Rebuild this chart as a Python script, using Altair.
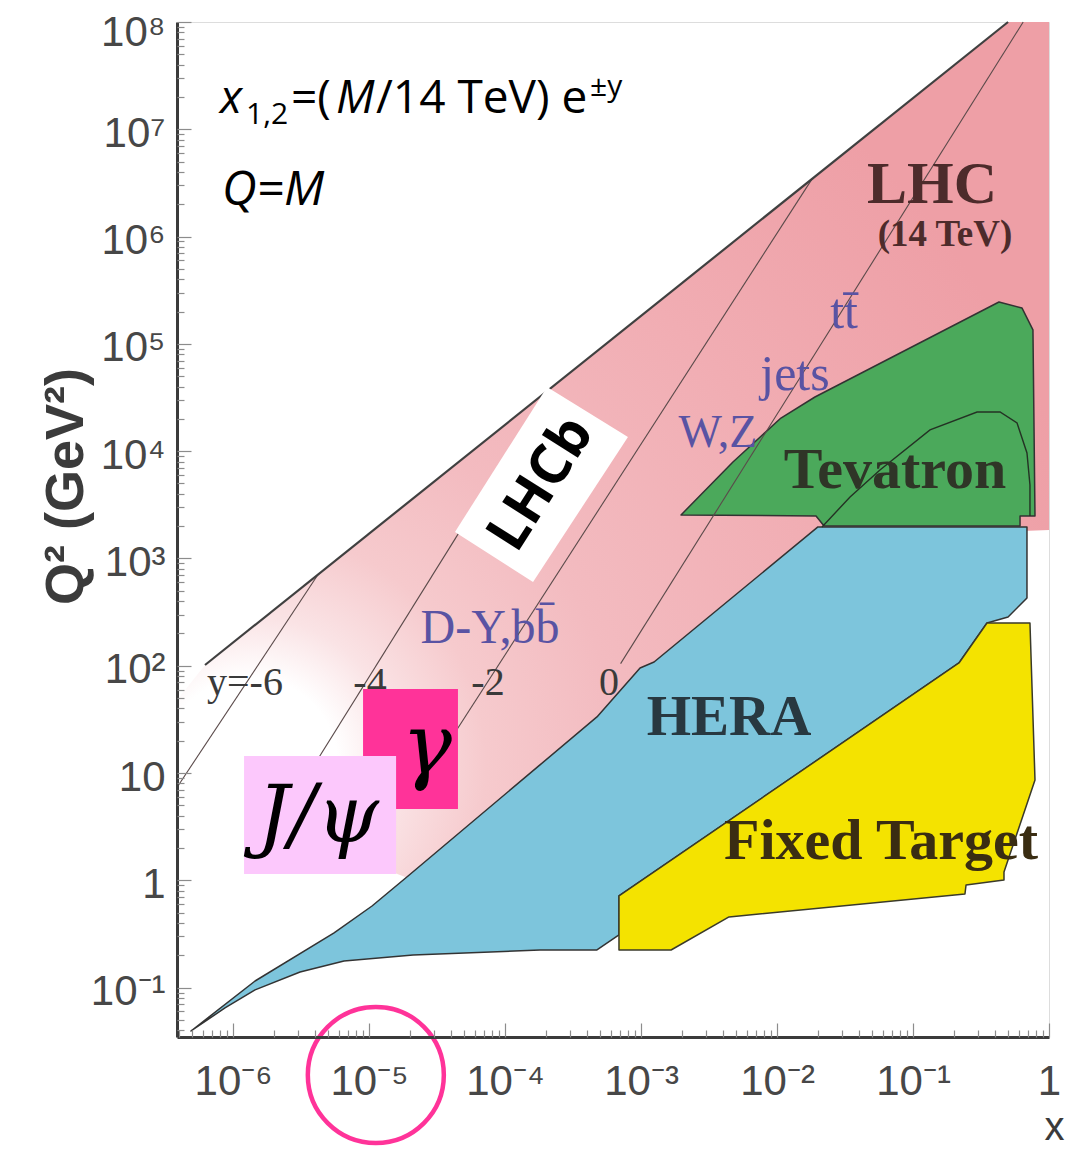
import math
import altair as alt
import pandas as pd

# ---------------- axes ----------------
x_tick_values = [1e-6, 1e-5, 1e-4, 1e-3, 1e-2, 1e-1, 1.0]
x_tick_labels = ["10⁻⁶", "10⁻⁵", "10⁻⁴", "10⁻³", "10⁻²", "10⁻¹", "1"]
y_tick_values = [1e-1, 1.0, 1e1, 1e2, 1e3, 1e4, 1e5, 1e6, 1e7, 1e8]
y_tick_labels = ["10⁻¹", "1", "10", "10²", "10³", "10⁴", "10⁵", "10⁶", "10⁷", "10⁸"]
x_log_domain = [-6.412, 0.0]
y_log_domain = [-1.46, 8.0]

# ---------------- regions: log10(x), log10(Q^2) vertices ----------------
lhc_logx = [-6.206, -0.301, 0.0, 0.0, -1.699, -4.676, -6.412, -6.412]
lhc_logq2 = [2.007, 8.0, 8.0, 3.266, 3.172, 0.004, 0.843, 1.681]

hera_logx = [-6.309, -5.838, -5.257, -4.978, -4.713, -3.743, -3.324, -3.007, -2.904,
             -1.699, -0.162, -0.162, -0.301, -0.456, -0.662, -3.162, -3.162, -3.324,
             -3.743, -4.676, -5.184, -5.507, -5.838, -6.059]
hera_logq2 = [-1.404, -0.938, -0.490, -0.239, 0.041, 1.076, 1.523, 1.979, 2.035,
              3.294, 3.294, 2.632, 2.455, 2.399, 2.026, -0.145, -0.509, -0.649,
              -0.649, -0.695, -0.751, -0.854, -1.021, -1.189]

tev_logx = [-2.706, -2.324, -1.971, -1.721, -0.368, -0.199, -0.118, -0.103, -0.213,
            -0.213, -1.654, -1.713]
tev_logq2 = [3.405, 3.899, 4.309, 4.505, 5.390, 5.335, 5.130, 3.396, 3.396,
             3.303, 3.303, 3.396]

tev_curve_logx = [-1.669, -1.463, -1.243, -0.875, -0.529, -0.360, -0.235, -0.162, -0.140, -0.140]
tev_curve_logq2 = [3.294, 3.573, 3.825, 4.198, 4.365, 4.365, 4.263, 3.983, 3.685, 3.396]

ft_logx = [-3.162, -0.662, -0.456, -0.140, -0.103, -0.331, -0.331, -0.610, -0.618,
           -2.353, -2.779, -3.162]
ft_logq2 = [-0.145, 2.026, 2.399, 2.399, 0.936, 0.078, 0.004, -0.043, -0.127,
            -0.341, -0.649, -0.649]

# LHC kinematic limit (upper edge)
limit_logx = [-6.206, -0.301]
limit_logq2 = [2.007, 8.0]

# constant-rapidity lines
rap_names = ["y=-6", "y=-4", "y=-2", "y=0"]
rap_logx = [[-6.41, -5.37], [-5.44, -4.28], [-4.56, -1.742], [-3.15, -0.19]]
rap_logq2 = [[0.87, 2.86], [1.00, 3.36], [1.00, 6.538], [2.02, 8.0]]

# annotation boxes
lhcb_box_logx = [-4.368, -3.691, -3.096, -3.794]
lhcb_box_logq2 = [3.247, 4.598, 4.132, 2.781]
gamma_box = [-5.044, -4.346, 0.665, 1.784]
jpsi_box = [-5.919, -4.801, 0.060, 1.159]
circle_logx, circle_logq2 = -4.95, -1.814

# text labels
rap_labels = ["y=-6", "-4", "-2", "0"]
rap_label_logx = [-5.912, -4.993, -4.125, -3.235]
rap_label_logq2 = [1.728, 1.728, 1.728, 1.728]

proc_labels = ["W,Z", "jets", "tt\u0304", "D-Y,bb\u0304"]
proc_logx = [-2.434, -1.868, -1.507, -4.110]
proc_logq2 = [4.039, 4.570, 5.148, 2.213]

region_labels = ["LHC", "(14 TeV)", "Tevatron", "HERA", "Fixed Target"]
region_logx = [-0.860, -0.765, -1.132, -2.353, -1.235]
region_logq2 = [6.313, 5.912, 3.657, 1.355, 0.200]

formula_parts = ["x", "1,2", "=(", "M", "/14 TeV) e", "±y"]
formula_logx = [-6.096, -5.904, -5.574, -5.243, -4.949, -3.375]
formula_logq2 = [7.152, 7.049, 7.152, 7.152, 7.152, 7.310]
qm_text, qm_logx, qm_logq2 = "Q=M", -6.081, 6.295

box_texts = ["LHCb", "γ", "J/ψ"]
box_text_logx = [-3.735, -4.574, -5.375]
box_text_logq2 = [3.694, 1.234, 0.582]

# ---------------- helpers ----------------
W, H = 872, 1015
xscale = alt.Scale(type="log", domain=[10 ** x_log_domain[0], 10 ** x_log_domain[1]], nice=False)
yscale = alt.Scale(type="log", domain=[10 ** y_log_domain[0], 10 ** y_log_domain[1]], nice=False)


def X(axis=None):
    return alt.X("x:Q", scale=xscale, axis=axis)


def Y(axis=None):
    return alt.Y("q2:Q", scale=yscale, axis=axis)


def pts(lx, ly):
    return pd.DataFrame({"x": [10.0 ** v for v in lx], "q2": [10.0 ** v for v in ly],
                         "i": list(range(len(lx)))})


def polygon(lx, ly, fill, stroke="transparent", width=0.0, xa=None, ya=None):
    return alt.Chart(pts(lx, ly)).mark_line(
        fill=fill, stroke=stroke, strokeWidth=width, interpolate="linear-closed",
        strokeJoin="round").encode(x=X(xa), y=Y(ya), order="i:Q")


def polyline(lx, ly, color, width, xa=None, ya=None):
    return alt.Chart(pts(lx, ly)).mark_line(color=color, strokeWidth=width).encode(
        x=X(xa), y=Y(ya), order="i:Q")


def texts(labels, lx, ly, **kw):
    df = pd.DataFrame({"t": labels, "x": [10.0 ** v for v in lx], "q2": [10.0 ** v for v in ly]})
    return alt.Chart(df).mark_text(**kw).encode(x=X(), y=Y(), text="t:N")


def rect(b, color):
    df = pd.DataFrame({"x": [10.0 ** b[0]], "x2": [10.0 ** b[1]],
                       "q2": [10.0 ** b[2]], "q22": [10.0 ** b[3]]})
    return alt.Chart(df).mark_rect(color=color, opacity=1).encode(
        x=X(), x2="x2:Q", y=Y(), y2="q22:Q")


def label_expr(vals, labs):
    parts = [f"round(log(datum.value)/LN10) == {int(round(math.log10(v)))} ? '{l}'"
             for v, l in zip(vals, labs)]
    return " : ".join(parts) + " : ''"


major_test = "abs(log(datum.value)/LN10 - round(log(datum.value)/LN10)) < 0.001"
top_label_test = "datum.value > 5e7"
x_minor = [k * 10.0 ** n for n in range(-7, 1) for k in range(1, 10)
           if 10 ** x_log_domain[0] <= k * 10.0 ** n <= 1.0]
y_minor = [k * 10.0 ** n for n in range(-2, 9) for k in range(1, 10)
           if 10 ** y_log_domain[0] <= k * 10.0 ** n <= 1e8]

AX_COLOR = "#3b3b3b"
LAB_COLOR = "#474747"

main_x_axis = alt.Axis(
    orient="bottom", values=x_tick_values, labelExpr=label_expr(x_tick_values, x_tick_labels),
    ticks=False, tickSize=0, grid=False, domainColor=AX_COLOR, domainWidth=3, zindex=1,
    labelFont="Liberation Sans", labelFontSize=42, labelColor=LAB_COLOR, labelPadding=57,
    labelBaseline="alphabetic", labelFlush=False, labelOverlap=False,
    title="x", titleFont="Liberation Sans", titleFontSize=40, titleFontWeight="normal",
    titleColor=AX_COLOR, titleX=877, titleY=102, titleAlign="center", titleBaseline="alphabetic")

main_y_axis = alt.Axis(
    orient="left", values=y_tick_values, labelExpr=label_expr(y_tick_values, y_tick_labels),
    ticks=False, tickSize=0, grid=False, domainColor=AX_COLOR, domainWidth=3, zindex=1,
    labelFont="Liberation Sans", labelFontSize=42, labelColor=LAB_COLOR, labelPadding=12,
    labelOffset={"condition": {"test": top_label_test, "value": 10}, "value": 4},
    labelAlign="right", labelBaseline="middle", labelFlush=False,
    labelOverlap=False,
    title="Q² (GeV²)", titleFont="Liberation Sans", titleFontSize=54, titleFontWeight="bold",
    titleColor=AX_COLOR, titleAngle=270, titleX=-95, titleY=464, titleAlign="center",
    titleBaseline="alphabetic")

tick_x_axis = alt.Axis(
    orient="top", offset=-H, values=x_minor, labels=False, domain=False, grid=False,
    ticks=True, tickColor="#8c8c8c", tickWidth=1.2, zindex=1,
    tickSize={"condition": {"test": major_test, "value": 14}, "value": 7}, title=None)

tick_y_axis = alt.Axis(
    orient="right", offset=-W, values=y_minor, labels=False, domain=False, grid=False,
    ticks=True, tickColor="#8c8c8c", tickWidth=1.2, zindex=1,
    tickSize={"condition": {"test": major_test, "value": 14}, "value": 7}, title=None)

pink_gradient = {
    "gradient": "radial",
    "x1": 0.084, "y1": 0.86, "r1": 0,
    "x2": 0.084, "y2": 0.86, "r2": 1.0,
    "stops": [
        {"offset": 0.0, "color": "#ffffff"},
        {"offset": 0.1, "color": "#ffffff"},
        {"offset": 0.17, "color": "#fae3e5"},
        {"offset": 0.27, "color": "#f6cacd"},
        {"offset": 0.42, "color": "#f3bbc0"},
        {"offset": 0.7, "color": "#f1adb3"},
        {"offset": 1.0, "color": "#ee9fa6"},
    ],
}

# ---------------- layers ----------------
lhc = polygon(lhc_logx, lhc_logq2, pink_gradient, xa=main_x_axis, ya=main_y_axis)
hera = polygon(hera_logx, hera_logq2, "#7dc5dc", "#333333", 1.5)
tev = polygon(tev_logx, tev_logq2, "#4ba95b", "#333333", 1.5)
ft = polygon(ft_logx, ft_logq2, "#f4e300", "#3a3a2a", 1.5)
tev_curve = polyline(tev_curve_logx, tev_curve_logq2, "#243224", 1.4)

rap_rows = []
for name, lx, ly in zip(rap_names, rap_logx, rap_logq2):
    for i, (a, b) in enumerate(zip(lx, ly)):
        rap_rows.append({"line": name, "x": 10.0 ** a, "q2": 10.0 ** b, "i": i})
rap = alt.Chart(pd.DataFrame(rap_rows)).mark_line(color="#5a4a4a", strokeWidth=1.1).encode(
    x=X(), y=Y(), detail="line:N", order="i:Q")

limit = polyline(limit_logx, limit_logq2, "#404040", 2.2, xa=tick_x_axis, ya=tick_y_axis)

serif = "Liberation Serif"
rap_txt = texts(rap_labels, rap_label_logx, rap_label_logq2, font=serif, fontSize=40,
                color="#3a3a3a", align="center", baseline="alphabetic")
proc_layers = []
proc_sizes = [46, 50, 50, 48]
for lab, lx, ly, fs in zip(proc_labels, proc_logx, proc_logq2, proc_sizes):
    proc_layers.append(texts([lab], [lx], [ly], font=serif, fontSize=fs, color="#5953a3",
                             align="center", baseline="alphabetic"))

region_styles = [
    dict(fontSize=60, color="#4d2b2b"),
    dict(fontSize=37, color="#4d2b2b"),
    dict(fontSize=58, color="#2f3527"),
    dict(fontSize=57, color="#283840"),
    dict(fontSize=58, color="#3a2d12"),
]
region_layers = []
for lab, lx, ly, st in zip(region_labels, region_logx, region_logq2, region_styles):
    region_layers.append(texts([lab], [lx], [ly], font=serif, fontWeight="bold",
                               align="center", baseline="alphabetic", **st))

lhcb_box = polygon(lhcb_box_logx, lhcb_box_logq2, "#ffffff")
gamma_rect = rect(gamma_box, "#ff3399")
jpsi_rect = rect(jpsi_box, "#fcc8fc")

lhcb_txt = texts([box_texts[0]], [box_text_logx[0]], [box_text_logq2[0]], font="Open Sans",
                 fontWeight="bold", fontSize=56, color="#000000", angle=302.4,
                 align="center", baseline="middle")
gamma_txt = texts([box_texts[1]], [box_text_logx[1]], [box_text_logq2[1]], font="DejaVu Serif",
                  fontStyle="italic", fontSize=84, color="#000000", align="center",
                  baseline="middle")
jpsi_txt = texts([box_texts[2]], [box_text_logx[2]], [box_text_logq2[2]], font="DejaVu Serif",
                 fontStyle="italic", fontSize=80, color="#000000", align="center",
                 baseline="middle")

formula_styles = [
    dict(fontSize=46, fontStyle="italic"),
    dict(fontSize=30),
    dict(fontSize=46),
    dict(fontSize=46, fontStyle="italic"),
    dict(fontSize=46),
    dict(fontSize=30),
]
formula_layers = []
for part, lx, ly, st in zip(formula_parts, formula_logx, formula_logq2, formula_styles):
    formula_layers.append(texts([part], [lx], [ly], font="Open Sans", color="#000000",
                                align="left", baseline="alphabetic", **st))
qm = texts([qm_text], [qm_logx], [qm_logq2], font="Open Sans", fontStyle="italic",
           fontSize=48, color="#000000", align="left", baseline="alphabetic")

circle = alt.Chart(pd.DataFrame({"x": [10.0 ** circle_logx], "q2": [10.0 ** circle_logq2]})
                   ).mark_point(shape="circle", size=18500, filled=False, stroke="#ff3399",
                                strokeWidth=4.5, opacity=1).encode(x=X(), y=Y())

chart = alt.layer(
    lhc, hera, tev, ft, rap, limit, tev_curve,
    rap_txt, *proc_layers, *region_layers,
    lhcb_box, gamma_rect, jpsi_rect, lhcb_txt, gamma_txt, jpsi_txt,
    *formula_layers, qm, circle,
).resolve_axis(x="independent", y="independent").properties(
    width=W, height=H,
    autosize=alt.AutoSizeParams(type="none"),
    padding={"left": 169, "top": 14, "right": 22, "bottom": 111},
).configure_view(stroke="#7a7a7a", strokeWidth=2.5).configure(background="white")

chart.save("out.html", embed_options={"renderer": "svg", "actions": False})
